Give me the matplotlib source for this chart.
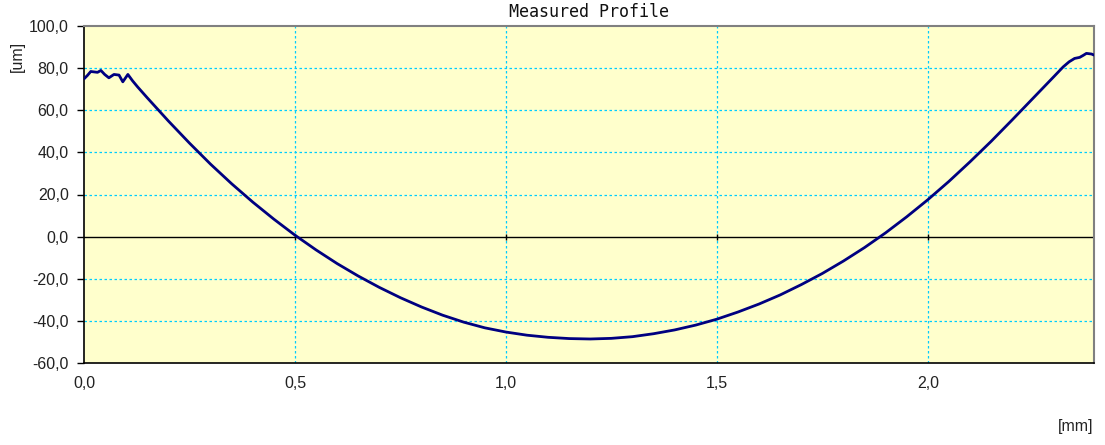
import matplotlib
matplotlib.use('Agg')
import matplotlib.pyplot as plt
from matplotlib.ticker import FuncFormatter


# ------------------------------
# Данные профиля
# ------------------------------
pos_mm = [0.000, 0.008, 0.016, 0.032, 0.040, 0.049, 0.059, 0.071, 0.083, 0.092,
          0.104, 0.115, 0.127, 0.150, 0.200, 0.250, 0.300, 0.350, 0.400, 0.450,
          0.500, 0.550, 0.600, 0.650, 0.700, 0.750, 0.800, 0.850, 0.900, 0.950,
          1.000, 1.050, 1.100, 1.150, 1.200, 1.250, 1.300, 1.350, 1.400, 1.450,
          1.500, 1.550, 1.600, 1.650, 1.700, 1.750, 1.800, 1.850, 1.900, 1.950,
          2.000, 2.050, 2.100, 2.150, 2.200, 2.250, 2.300, 2.321, 2.335, 2.348,
          2.360, 2.368, 2.376, 2.388, 2.394]
height_um = [74.9, 76.5, 78.4, 78.0, 78.9, 77.0, 75.4, 77.0, 76.7, 73.5,
             77.0, 74.0, 71.1, 65.9, 54.9, 44.4, 34.4, 25.1, 16.4, 8.3,
             0.7, -6.3, -12.8, -18.7, -24.1, -29.0, -33.4, -37.3, -40.6, -43.3,
             -45.3, -46.8, -47.8, -48.4, -48.6, -48.3, -47.5, -46.1, -44.3, -42.0,
             -39.2, -35.8, -32.0, -27.7, -22.8, -17.5, -11.6, -5.2, 1.8, 9.4,
             17.5, 26.2, 35.5, 45.2, 55.4, 65.8, 76.2, 80.6, 83.0, 84.6,
             85.1, 86.0, 87.0, 86.7, 86.2]

x_ticks = [0.0, 0.5, 1.0, 1.5, 2.0]
y_ticks = [-60, -40, -20, 0, 20, 40, 60, 80, 100]

plt.rcParams['font.family'] = ['Liberation Sans', 'DejaVu Sans']

fig = plt.figure(figsize=(11.05, 4.45), dpi=100)
ax = fig.add_axes([84 / 1105, (445 - 363) / 445, 1010 / 1105, 337 / 445])
ax.set_facecolor('#FFFFCC')

ax.plot(pos_mm, height_um, color='#000080', lw=2.0, solid_joinstyle='round',
        solid_capstyle='round', zorder=3)

# сетка и нулевая линия
for yv in y_ticks[1:-1]:
    if yv != 0:
        ax.axhline(yv, color='#00CCFF', lw=0.9, ls=(0, (2, 2)), zorder=1)
for xv in x_ticks[1:]:
    ax.axvline(xv, color='#00CCFF', lw=0.9, ls=(0, (2, 2)), zorder=1)
ax.axhline(0, color='black', lw=1.0, zorder=2)
ax.plot(x_ticks[1:], [0] * len(x_ticks[1:]), ls='none', marker='|',
        ms=4, color='black', mew=1.0, zorder=2)

ax.set_xlim(0, 2.394)
ax.set_ylim(-60, 100)
ax.set_xticks(x_ticks)
ax.set_yticks(y_ticks)
ax.xaxis.set_major_formatter(FuncFormatter(lambda v, p: f'{v:.1f}'.replace('.', ',')))
ax.yaxis.set_major_formatter(FuncFormatter(lambda v, p: f'{v:.1f}'.replace('.', ',')))
ax.tick_params(axis='x', length=0, pad=9, labelsize=11.5, labelcolor='#222222')
ax.tick_params(axis='y', length=5, width=1, pad=6, labelsize=11.5, labelcolor='#222222')

for s in ['left', 'bottom']:
    ax.spines[s].set_color('black')
    ax.spines[s].set_linewidth(1.2)
for s in ['top', 'right']:
    ax.spines[s].set_color('#808080')
    ax.spines[s].set_linewidth(1.5)

fig.text(589 / 1105, 1 - 12 / 445, 'Measured Profile', family='DejaVu Sans Mono',
         fontsize=12, ha='center', va='center', color='#111111')
fig.text(17 / 1105, 1 - 56 / 445, '[um]', rotation=90, fontsize=11.5,
         ha='center', va='center', color='#222222')
fig.text(1076 / 1105, 1 - 427 / 445, '[mm]', fontsize=11.5,
         ha='center', va='center', color='#222222')

fig.savefig('out.png', dpi=100)
